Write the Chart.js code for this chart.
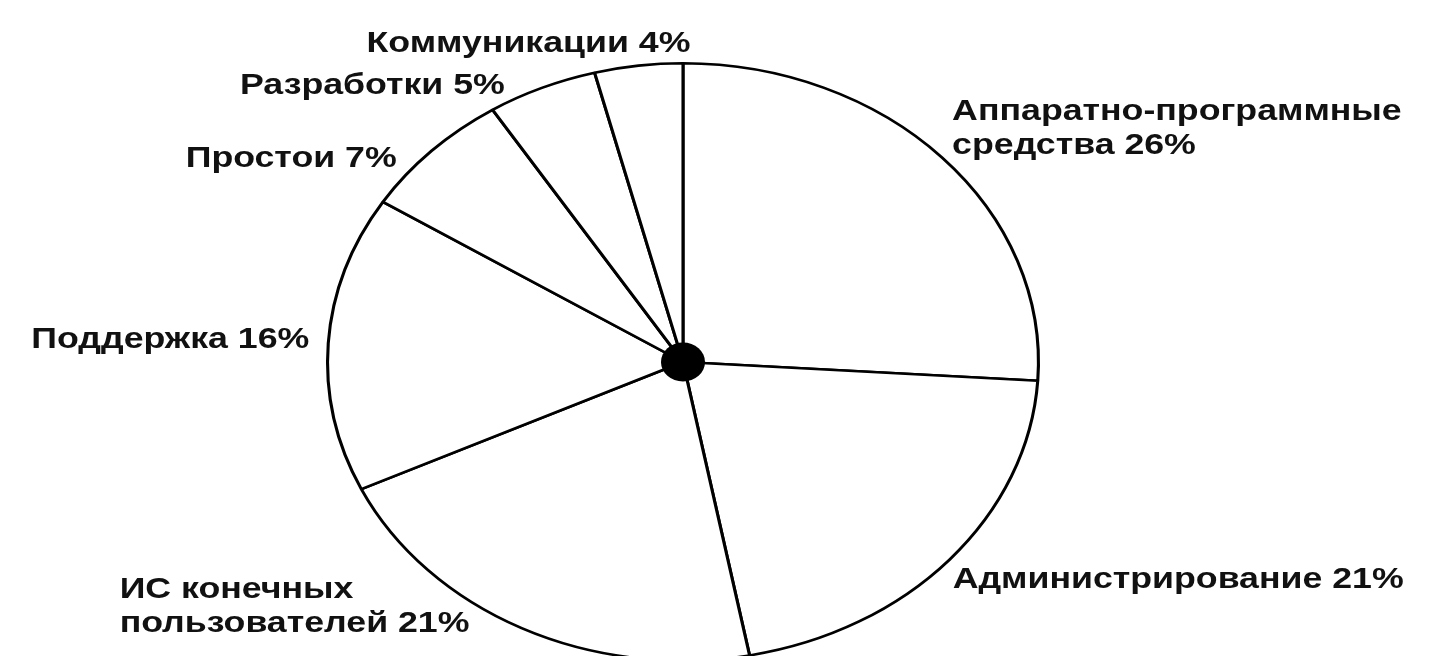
<!DOCTYPE html>
<html>
<head>
<meta charset="utf-8">
<script src="https://cdn.jsdelivr.net/npm/chart.js@4.4.1/dist/chart.umd.min.js"></script>
<style>
  html, body { margin: 0; padding: 0; background: #fff; overflow: hidden; }
  #wrap { width: 1429px; height: 656px; overflow: hidden; }
</style>
</head>
<body>
<div id="wrap"><canvas id="pie" width="1429" height="700"></canvas></div>
<script>
// --- DATOS ---
const categorias = [
  'Аппаратно-программные\nсредства',
  'Администрирование',
  'ИС конечных\nпользователей',
  'Поддержка',
  'Простои',
  'Разработки',
  'Коммуникации'
];
const porcentajes = [26, 21, 21, 16, 7, 5, 4];

// --- LAYOUT (label nudges relative to slice edge: align, dx, dy) ---
const labelPlace = [
  ['left', 10, -46],
  ['left', 3, 20],
  ['left', -402, -38],
  ['right', -19, -4],
  ['right', -35, 8],
  ['right', -37, -2],
  ['right', 52, -22]
];
const stretchX = 1.19;
const lineGap = 34;
const fontLabel = 'bold 30px "Liberation Sans", Arial, sans-serif';

const elipse = {
  id: 'elipse',
  beforeDatasetsDraw(chart) {
    const ctx = chart.ctx;
    const a = chart.getDatasetMeta(0).data[0];
    ctx.save();
    ctx.translate(a.x, a.y);
    ctx.scale(stretchX, 1);
    ctx.translate(-a.x, -a.y);
  },
  afterDatasetsDraw(chart) {
    const ctx = chart.ctx;
    ctx.restore();
    const meta = chart.getDatasetMeta(0);
    const c = meta.data[0];

    // punto central
    ctx.save();
    ctx.fillStyle = '#000';
    ctx.beginPath();
    ctx.ellipse(c.x, c.y, 18.5 * stretchX, 19.5, 0, 0, Math.PI * 2);
    ctx.fill();
    ctx.restore();

    // etiquetas
    meta.data.forEach((arc, i) => {
      const mid = (arc.startAngle + arc.endAngle) / 2;
      const px = arc.x + Math.cos(mid) * arc.outerRadius * stretchX;
      const py = arc.y + Math.sin(mid) * arc.outerRadius;
      const [align, dx, dy] = labelPlace[i];
      const lines = (categorias[i] + ' ' + porcentajes[i] + '%').split('\n');
      lines.forEach((t, j) => {
        ctx.save();
        ctx.translate(px + dx, py + dy + j * lineGap);
        ctx.scale(stretchX, 1);
        ctx.font = fontLabel;
        ctx.fillStyle = '#111';
        ctx.textAlign = align;
        ctx.textBaseline = 'middle';
        ctx.fillText(t, 0, 0);
        ctx.restore();
      });
    });
  }
};

new Chart(document.getElementById('pie'), {
  type: 'pie',
  data: {
    labels: categorias,
    datasets: [{
      data: porcentajes,
      backgroundColor: '#fff',
      borderColor: '#000',
      borderWidth: 2.6
    }]
  },
  options: {
    responsive: false,
    animation: false,
    layout: { padding: { top: 62, bottom: 38, left: 383, right: 446 } },
    plugins: { legend: { display: false }, tooltip: { enabled: false } }
  },
  plugins: [elipse]
});
</script>
</body>
</html>
